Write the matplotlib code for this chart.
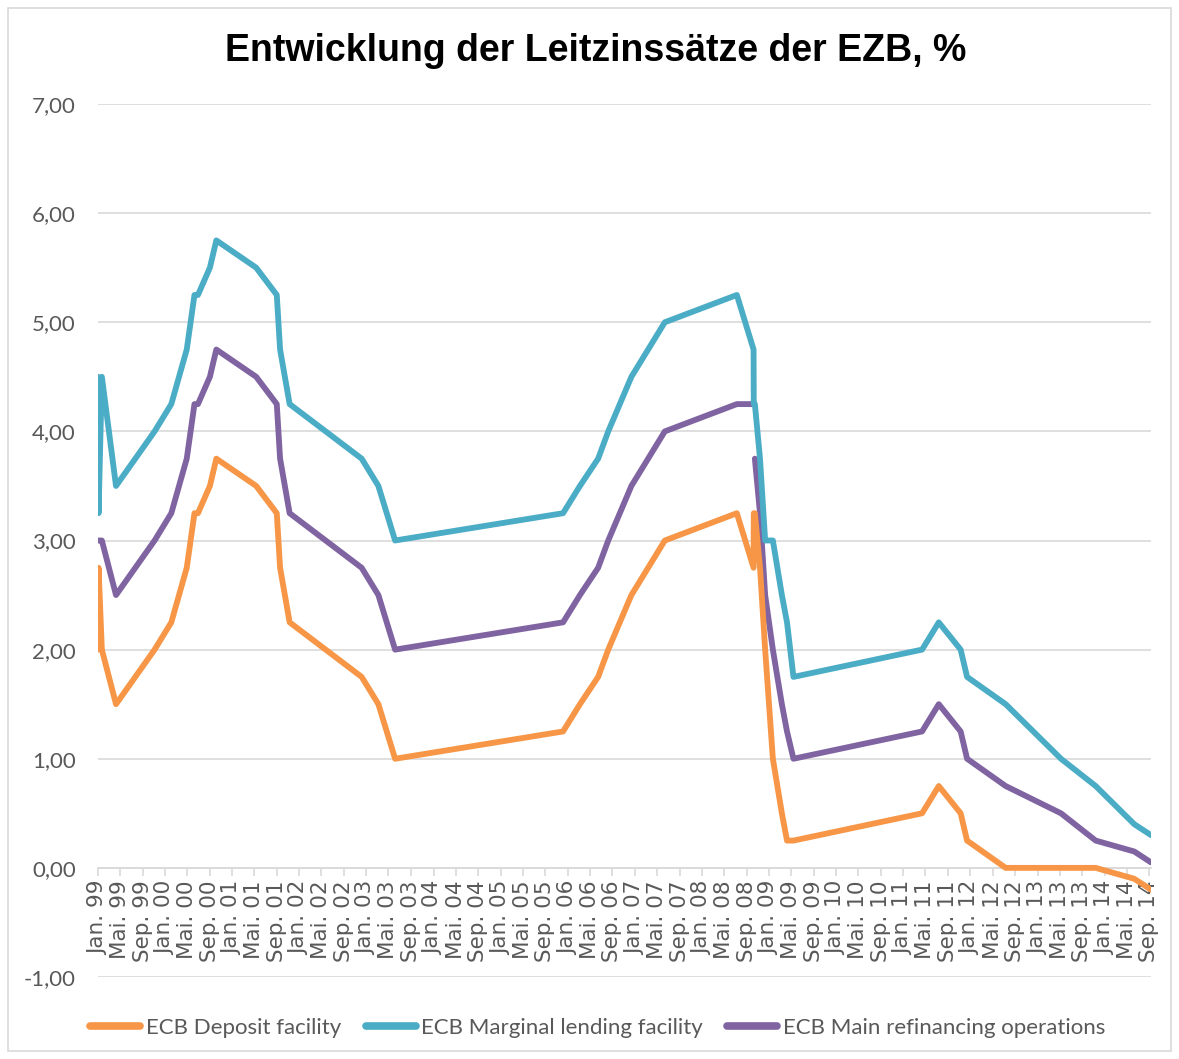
import numpy as np
import pandas as pd
import matplotlib
matplotlib.use('Agg')
import matplotlib.pyplot as plt
from matplotlib.patches import Rectangle

# Leitzinsänderungen der EZB (Datum der Änderung)
dates = ['1999-01-01', '1999-01-04', '1999-01-22', '1999-04-09', '1999-11-05',
         '2000-02-04', '2000-03-17', '2000-04-28', '2000-06-09', '2000-06-28',
         '2000-09-01', '2000-10-06', '2001-05-11', '2001-08-31', '2001-09-18',
         '2001-11-09', '2002-12-06', '2003-03-07', '2003-06-06', '2005-12-06',
         '2006-03-08', '2006-06-15', '2006-08-09', '2006-10-11', '2006-12-13',
         '2007-03-14', '2007-06-13', '2008-07-09', '2008-10-08', '2008-10-09',
         '2008-10-15', '2008-11-12', '2008-12-10', '2009-01-21', '2009-03-11',
         '2009-04-08', '2009-05-13', '2011-04-13', '2011-07-13', '2011-11-09',
         '2011-12-14', '2012-07-11', '2013-05-08', '2013-11-13', '2014-06-11',
         '2014-09-10']

deposit = [2.00, 2.75, 2.00, 1.50, 2.00, 2.25, 2.50, 2.75, 3.25, 3.25,
           3.50, 3.75, 3.50, 3.25, 2.75, 2.25, 1.75, 1.50, 1.00, 1.25,
           1.50, 1.75, 2.00, 2.25, 2.50, 2.75, 3.00, 3.25, 2.75, 3.25,
           3.25, 2.75, 2.00, 1.00, 0.50, 0.25, 0.25, 0.50, 0.75, 0.50,
           0.25, 0.00, 0.00, 0.00, -0.10, -0.20]

marginal = [4.50, 3.25, 4.50, 3.50, 4.00, 4.25, 4.50, 4.75, 5.25, 5.25,
            5.50, 5.75, 5.50, 5.25, 4.75, 4.25, 3.75, 3.50, 3.00, 3.25,
            3.50, 3.75, 4.00, 4.25, 4.50, 4.75, 5.00, 5.25, 4.75, 4.25,
            4.25, 3.75, 3.00, 3.00, 2.50, 2.25, 1.75, 2.00, 2.25, 2.00,
            1.75, 1.50, 1.00, 0.75, 0.40, 0.30]

main = [3.00, 3.00, 3.00, 2.50, 3.00, 3.25, 3.50, 3.75, 4.25, 4.25,
        4.50, 4.75, 4.50, 4.25, 3.75, 3.25, 2.75, 2.50, 2.00, 2.25,
        2.50, 2.75, 3.00, 3.25, 3.50, 3.75, 4.00, 4.25, 4.25, np.nan,
        3.75, 3.25, 2.50, 2.00, 1.50, 1.25, 1.00, 1.25, 1.50, 1.25,
        1.00, 0.75, 0.50, 0.25, 0.15, 0.05]

series_names = ['ECB Deposit facility', 'ECB Marginal lending facility',
                'ECB Main refinancing operations']
colors = ['#F79646', '#4BACC6', '#8064A2']

month_names = {1: 'Jan.', 5: 'Mai.', 9: 'Sep.'}

x = pd.to_datetime(dates)
grey = '#595959'
font = ['Lato', 'DejaVu Sans']

fig = plt.figure(figsize=(11.79, 10.59), dpi=100)
fig.patches.append(Rectangle((8 / 1179, 8 / 1059), 1163 / 1179, 1043 / 1059,
                             transform=fig.transFigure, fill=False,
                             edgecolor='#D9D9D9', linewidth=1.2))

ax = fig.add_axes([98 / 1179, (1059 - 977) / 1059, (1151 - 98) / 1179, (977 - 104) / 1059])

lines = []
for vals, name, col, z in zip([deposit, marginal, main], series_names, colors, [3, 4, 2]):
    ln, = ax.plot(x, vals, color=col, lw=4.2, label=name, zorder=z,
                  solid_capstyle='round', solid_joinstyle='round')
    lines.append(ln)

ax.set_ylim(-1, 7)
yt = np.arange(-1, 8, 1)
ax.set_yticks(yt)
ax.set_yticklabels([f'{v:.2f}'.replace('.', ',') for v in yt])
ax.grid(axis='y', color='#D9D9D9', lw=1.2)
ax.set_axisbelow(True)

ticks = pd.date_range('1999-01-01', '2014-09-01', freq='4MS')
ax.set_xlim(pd.Timestamp('1999-01-01'), pd.Timestamp('2014-09-10'))
ax.set_xticks(ticks)
ax.set_xticklabels([f'{month_names[t.month]} {t.strftime("%y")}' for t in ticks])

ax.tick_params(axis='y', length=0, pad=16, labelsize=16, labelcolor=grey)
ax.tick_params(axis='x', length=6, color='#D9D9D9', width=1.2, pad=3,
               labelrotation=90, labelsize=15.5, labelcolor=grey)
for lab in ax.get_xticklabels() + ax.get_yticklabels():
    lab.set_family(font)

for s in ['top', 'right', 'left']:
    ax.spines[s].set_visible(False)
ax.spines['bottom'].set_position(('data', 0))
ax.spines['bottom'].set_color('#D9D9D9')
ax.spines['bottom'].set_linewidth(1.2)

fig.text(0.505, 1 - 51 / 1059, 'Entwicklung der Leitzinssätze der EZB, %',
         ha='center', va='center', fontsize=27, fontweight='bold',
         family=['Liberation Sans', 'DejaVu Sans'])

leg = fig.legend(handles=lines, loc='center', bbox_to_anchor=(0.507, 1 - 1028 / 1059),
                 ncol=3, frameon=False, handlelength=2.25, handletextpad=0.25,
                 columnspacing=1.1, prop={'family': font, 'size': 16})
for t in leg.get_texts():
    t.set_color(grey)
for h in leg.legend_handles:
    h.set_linewidth(5.5)

fig.savefig('out.png', dpi=100)
